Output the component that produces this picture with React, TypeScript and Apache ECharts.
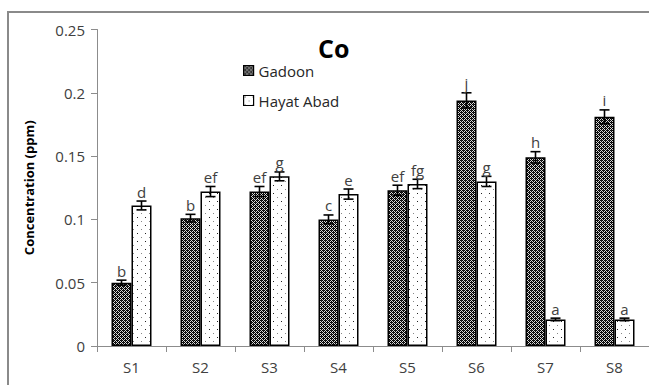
import React, { useEffect, useRef } from "react";
import * as echarts from "echarts";

const categories = ["S1", "S2", "S3", "S4", "S5", "S6", "S7", "S8"];
const gadoon = [0.05, 0.101, 0.122, 0.1, 0.123, 0.194, 0.149, 0.181];
const hayat = [0.111, 0.122, 0.134, 0.12, 0.128, 0.13, 0.021, 0.021];
const gadoonErr = [0.002, 0.003, 0.004, 0.0035, 0.004, 0.006, 0.0045, 0.0055];
const hayatErr = [0.0035, 0.004, 0.0035, 0.004, 0.0037, 0.004, 0.001, 0.001];
const gadoonLetters = ["b", "b", "ef", "c", "ef", "j", "h", "i"];
const hayatLetters = ["d", "ef", "g", "e", "fg", "g", "a", "a"];
const yTicks = { min: 0, max: 0.25, interval: 0.05 };

const FONT = "'Open Sans', 'DejaVu Sans', sans-serif";

function makeChecker(): HTMLCanvasElement {
  const c = document.createElement("canvas");
  c.width = 4;
  c.height = 4;
  const ctx = c.getContext("2d")!;
  ctx.fillStyle = "#d9d9d9";
  ctx.fillRect(0, 0, 4, 4);
  ctx.fillStyle = "#000";
  for (let y = 0; y < 4; y++) {
    for (let x = 0; x < 4; x++) {
      if ((x + y) % 2 === 0) ctx.fillRect(x, y, 1, 1);
    }
  }
  ctx.fillStyle = "#222";
  ctx.fillRect(1, 0, 1, 1);
  ctx.fillRect(3, 2, 1, 1);
  return c;
}

function makeDots(): HTMLCanvasElement {
  const c = document.createElement("canvas");
  c.width = 8;
  c.height = 8;
  const ctx = c.getContext("2d")!;
  ctx.fillStyle = "#ffffff";
  ctx.fillRect(0, 0, 8, 8);
  ctx.fillStyle = "#222";
  ctx.fillRect(1, 1, 1, 1);
  ctx.fillStyle = "#888";
  ctx.fillRect(5, 5, 1, 1);
  return c;
}

function errSeries(name: string, vals: number[], errs: number[], letters: string[], offset: number) {
  return {
    type: "custom",
    name,
    z: 5,
    encode: { x: 0, y: 1 },
    data: vals.map((v, i) => [i, v, errs[i]]),
    renderItem: (params: any, api: any) => {
      const ci = api.value(0);
      const v = api.value(1);
      const e = api.value(2);
      const top = api.coord([ci, v + e]);
      const bot = api.coord([ci, v - e]);
      const x = top[0] + offset;
      const cap = 5;
      const st = { stroke: "#000", lineWidth: 1.6 };
      return {
        type: "group",
        children: [
          { type: "line", shape: { x1: x, y1: top[1], x2: x, y2: bot[1] }, style: st },
          { type: "line", shape: { x1: x - cap, y1: top[1], x2: x + cap, y2: top[1] }, style: st },
          { type: "line", shape: { x1: x - cap, y1: bot[1], x2: x + cap, y2: bot[1] }, style: st },
          {
            type: "text",
            style: {
              text: letters[params.dataIndex],
              x,
              y: top[1] - 2,
              textAlign: "center",
              textVerticalAlign: "bottom",
              fill: "#404040",
              font: `15px ${FONT}`,
            },
          },
        ],
      };
    },
  };
}

export default function App() {
  const ref = useRef<HTMLDivElement>(null);
  useEffect(() => {
    if (!ref.current) return;
    const chart = echarts.init(ref.current, undefined, { renderer: "svg" });
    const checker = makeChecker();
    const dots = makeDots();
    chart.setOption({
      animation: false,
      backgroundColor: "#ffffff",
      title: {
        text: "Co",
        left: 313,
        top: 30,
        textStyle: { fontFamily: FONT, fontSize: 25, fontWeight: "bold", color: "#000" },
      },
      legend: {
        data: [
          { name: "Gadoon", itemStyle: { borderColor: "#000", borderWidth: 1.2 } },
          { name: "Hayat Abad", itemStyle: { borderColor: "#000", borderWidth: 1.2 } },
        ],
        orient: "vertical",
        left: 238,
        top: 58,
        itemGap: 15,
        itemWidth: 10,
        itemHeight: 10,
        icon: "rect",
        textStyle: { fontFamily: FONT, fontSize: 15, color: "#262626" },
      },
      graphic: [
        {
          type: "rect",
          shape: { x: 8, y: 12, width: 700, height: 420 },
          style: { fill: "none", stroke: "#8a8a8a", lineWidth: 2 },
          silent: true,
          z: -1,
        },
      ],
      grid: { left: 97, right: 0, top: 29.5, bottom: 39 },
      xAxis: {
        type: "category",
        data: categories,
        axisLine: { lineStyle: { color: "#8c8c8c", width: 1 } },
        axisTick: { show: true, length: 6, lineStyle: { color: "#8c8c8c" } },
        axisLabel: { margin: 13, fontFamily: FONT, fontSize: 15, color: "#404040" },
      },
      yAxis: {
        type: "value",
        min: yTicks.min,
        max: yTicks.max,
        interval: yTicks.interval,
        name: "Concentration (ppm)",
        nameLocation: "middle",
        nameGap: 62,
        nameTextStyle: { fontFamily: FONT, fontSize: 13, fontWeight: "bold", color: "#000" },
        splitLine: { show: false },
        axisLine: { show: true, lineStyle: { color: "#8c8c8c", width: 1 } },
        axisTick: { show: true, length: 6, lineStyle: { color: "#8c8c8c" } },
        axisLabel: { margin: 12, fontFamily: FONT, fontSize: 15, color: "#404040" },
      },
      series: [
        {
          type: "bar",
          name: "Gadoon",
          data: gadoon,
          barWidth: 20,
          barGap: "0%",
          itemStyle: {
            color: { image: checker, repeat: "repeat" },
            borderColor: "#000",
            borderWidth: 1.5,
          },
        },
        {
          type: "bar",
          name: "Hayat Abad",
          data: hayat,
          barWidth: 20,
          barGap: "0%",
          itemStyle: {
            color: { image: dots, repeat: "repeat" },
            borderColor: "#000",
            borderWidth: 1.5,
          },
        },
        errSeries("errG", gadoon, gadoonErr, gadoonLetters, -10),
        errSeries("errH", hayat, hayatErr, hayatLetters, 10),
      ],
    } as any);
    return () => chart.dispose();
  }, []);
  return (
    <div
      ref={ref}
      style={{ position: "fixed", left: 0, top: 0, width: 649, height: 385 }}
    />
  );
}
